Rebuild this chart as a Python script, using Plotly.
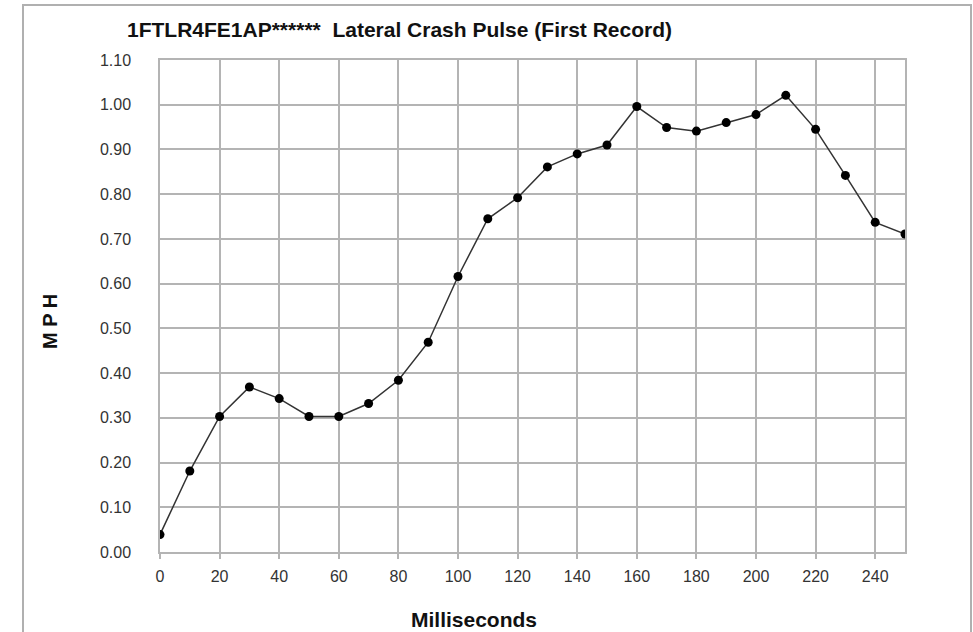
import plotly.graph_objects as go

time_ms = [0, 10, 20, 30, 40, 50, 60, 70, 80, 90, 100, 110, 120, 130, 140, 150,
           160, 170, 180, 190, 200, 210, 220, 230, 240, 250]
mph = [0.039, 0.181, 0.303, 0.369, 0.343, 0.303, 0.303, 0.332, 0.384, 0.469,
       0.616, 0.745, 0.792, 0.861, 0.890, 0.910, 0.996, 0.949, 0.941, 0.960,
       0.978, 1.021, 0.945, 0.842, 0.737, 0.711]

title_text = "1FTLR4FE1AP******  Lateral Crash Pulse (First Record)"
x_title = "Milliseconds"
y_title = "M P H"

W, H = 973, 632
L, R, T, B = 160, 905, 60, 552
pw, ph = R - L, B - T

def px(x):
    return (x - L) / pw

def py(y):
    return (B - y) / ph

FONT = "Liberation Sans, Arial, sans-serif"
GRID = "#b4b4b4"

fig = go.Figure()
fig.add_trace(go.Scatter(
    x=time_ms, y=mph, mode="lines+markers",
    line=dict(color="#333333", width=1.5),
    marker=dict(color="black", size=9),
    hoverinfo="x+y", showlegend=False,
))

fig.update_layout(
    width=W, height=H,
    margin=dict(l=L, r=W - R, t=T, b=H - B),
    paper_bgcolor="white", plot_bgcolor="white",
    font=dict(family=FONT, color="#333333", size=16),
    xaxis=dict(range=[0, 250], dtick=20, tick0=0, showgrid=True,
               gridcolor=GRID, gridwidth=1.5, zeroline=False,
               showline=True, linecolor=GRID, linewidth=1.5, mirror=True,
               ticks="outside", ticklen=5, tickcolor=GRID, tickwidth=1.5,
               ticklabelstandoff=4,
               tickfont=dict(size=16, color="#333333")),
    yaxis=dict(range=[0, 1.1], dtick=0.1, tick0=0, tickformat=".2f",
               showgrid=True, gridcolor=GRID, gridwidth=1.5, zeroline=False,
               showline=True, linecolor=GRID, linewidth=1.5, mirror=True,
               ticks="", ticklabelstandoff=24,
               tickfont=dict(size=16, color="#333333")),
    annotations=[
        dict(text="<b>" + title_text + "</b>", xref="paper", yref="paper",
             x=px(125), y=py(30), xanchor="left", yanchor="middle",
             showarrow=False, font=dict(size=21, color="#111111", family=FONT)),
        dict(text="<b>" + x_title + "</b>", xref="paper", yref="paper",
             x=px(474), y=py(619), xanchor="center", yanchor="middle",
             showarrow=False, font=dict(size=21, color="#111111", family=FONT)),
        dict(text="<b>" + y_title + "</b>", xref="paper", yref="paper",
             x=px(50), y=py(322), xanchor="center", yanchor="middle",
             textangle=-90, showarrow=False,
             font=dict(size=20, color="#111111", family=FONT)),
    ],
    shapes=[
        dict(type="rect", xref="paper", yref="paper",
             x0=px(23), x1=px(971), y0=py(700), y1=py(5),
             line=dict(color="#b0b0b0", width=2), layer="below"),
    ],
)

fig.write_html("out.html")
